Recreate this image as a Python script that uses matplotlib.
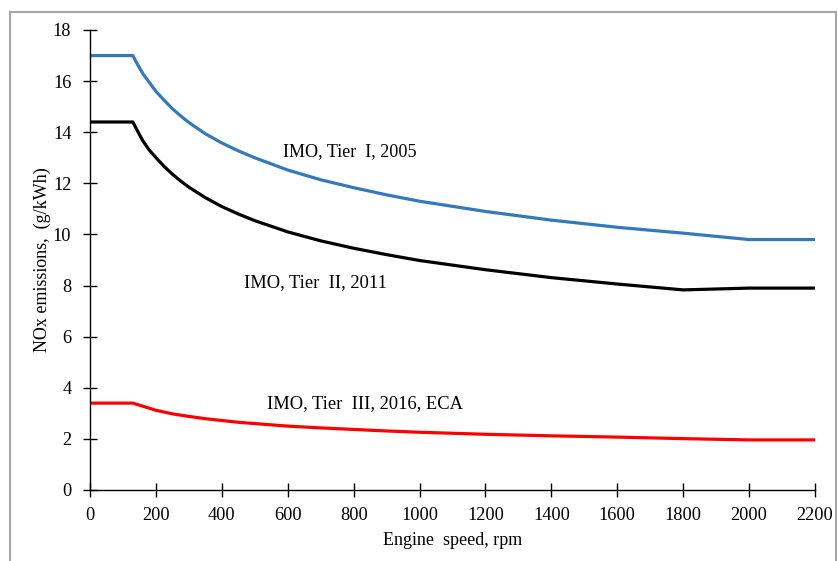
import matplotlib
matplotlib.use("Agg")
import matplotlib.pyplot as plt
from matplotlib.lines import Line2D

plt.rcParams['font.family'] = ['Liberation Serif', 'DejaVu Serif']

speed = [0, 130, 140, 160, 180, 200, 225, 250, 275, 300, 350, 400, 450, 500,
         600, 700, 800, 900, 1000, 1200, 1400, 1600, 1800, 2000, 2200]
tier1 = [17.0, 17.0, 16.75, 16.3, 15.95, 15.6, 15.25, 14.92, 14.64, 14.38,
         13.94, 13.58, 13.27, 13.0, 12.52, 12.14, 11.83, 11.55, 11.3, 10.9,
         10.56, 10.28, 10.05, 9.8, 9.8]
tier2 = [14.4, 14.4, 14.15, 13.67, 13.3, 13.01, 12.66, 12.36, 12.09, 11.85,
         11.44, 11.09, 10.8, 10.54, 10.1, 9.75, 9.46, 9.21, 8.98, 8.62,
         8.31, 8.06, 7.83, 7.9, 7.9]
tier3 = [3.4, 3.4, 3.36, 3.28, 3.2, 3.12, 3.05, 2.98, 2.93, 2.88, 2.79,
         2.72, 2.65, 2.6, 2.5, 2.43, 2.37, 2.31, 2.26, 2.18, 2.12, 2.07,
         2.01, 1.96, 1.96]

labels = ["IMO, Tier  I, 2005", "IMO, Tier  II, 2011", "IMO, Tier  III, 2016, ECA"]

fig = plt.figure(figsize=(8.38, 5.61), dpi=100)
ax = fig.add_axes([90/838, 1 - 490/561, 725/838, 460/561])

ax.plot(speed, tier1, color="#3478BD", lw=2.3)
ax.plot(speed, tier2, color="black", lw=2.3)
ax.plot(speed, tier3, color="#FF0000", lw=2.3)

ax.text(789, 13.23, labels[0], ha="center", va="center", fontsize=13.1)
ax.text(683, 8.1, labels[1], ha="center", va="center", fontsize=13.3)
ax.text(834, 3.4, labels[2], ha="center", va="center", fontsize=13.3)

ax.set_xlim(0, 2200)
ax.set_ylim(0, 18)
ax.set_xticks(range(0, 2201, 200))
ax.set_yticks(range(0, 19, 2))
ax.tick_params(direction="inout", length=10, width=1, labelsize=13.2)
ax.tick_params(axis="x", pad=7)
ax.tick_params(axis="y", pad=8.5)
for s in ["top", "right"]:
    ax.spines[s].set_visible(False)
for s in ["left", "bottom"]:
    ax.spines[s].set_linewidth(1)

ax.set_xlabel("Engine  speed, rpm", fontsize=13, labelpad=6)
ax.set_ylabel("NOx emissions,  (g/kWh)", fontsize=13, labelpad=1)

# gray frame around the chart
frame_col = "#A6A6A6"
x0, x1 = 9.5 / 838, 836 / 838
y1 = 1 - 12 / 561
for xs, ys in [([x0, x0], [0, y1]), ([x0, x1], [y1, y1]), ([x1, x1], [y1, 0])]:
    fig.add_artist(Line2D(xs, ys, color=frame_col, lw=1.5, transform=fig.transFigure))

fig.savefig("out.png", dpi=100)
